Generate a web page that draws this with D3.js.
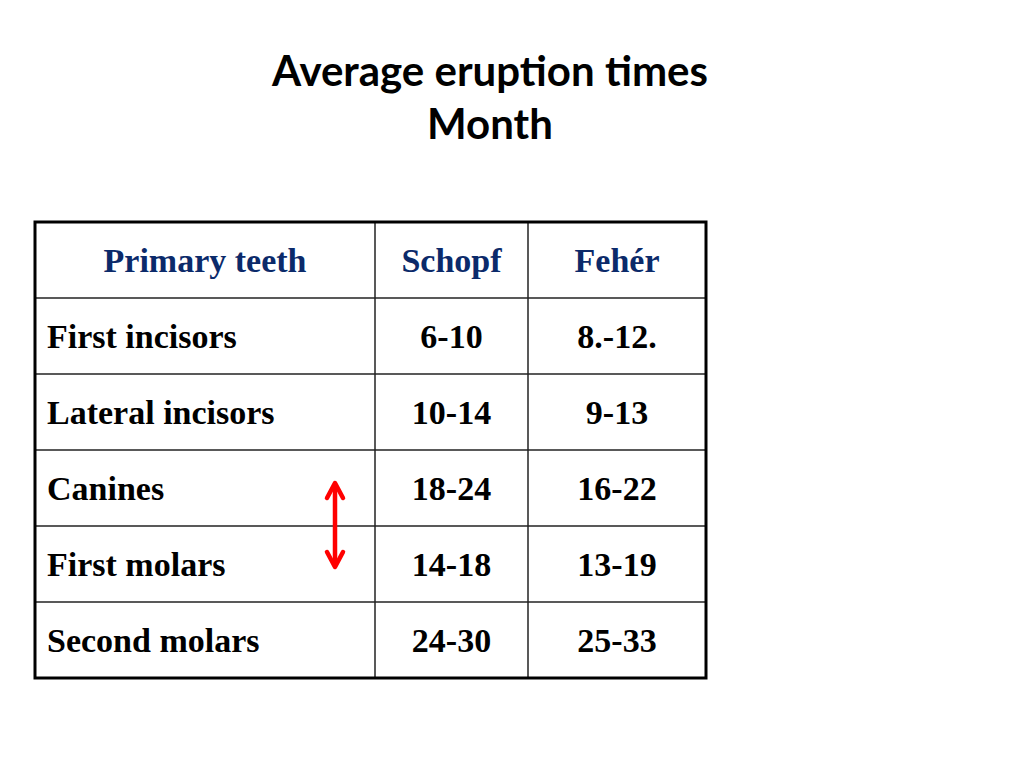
<!DOCTYPE html>
<html>
<head>
<meta charset="utf-8">
<script src="https://cdn.jsdelivr.net/npm/d3@7"></script>
<style>
  body { margin: 0; background: #fff; }
</style>
</head>
<body>
<svg id="table-svg" width="1024" height="768"></svg>
<script>
// Table content
var titleLines = ["Average eruption times", "Month"];
var headers = ["Primary teeth", "Schopf", "Fehér"];
var teeth = ["First incisors", "Lateral incisors", "Canines", "First molars", "Second molars"];
var schopf = ["6-10", "10-14", "18-24", "14-18", "24-30"];
var feher = ["8.-12.", "9-13", "16-22", "13-19", "25-33"];

var svg = d3.select("#table-svg");

// Table frame
var tLeft = 35, tTop = 222, tRight = 706, tBottom = 678;
var colEdges = [tLeft, 375, 528, tRight];

// Title
svg.selectAll(".title")
    .data(titleLines)
    .enter().append("text")
    .attr("class", "title")
    .attr("x", 490)
    .attr("y", (d, i) => 86 + i * 53)
    .attr("text-anchor", "middle")
    .style("font-family", "Lato, 'Open Sans', sans-serif")
    .style("font-weight", "bold")
    .style("font-size", "42px")
    .text(d => d);

// Rows: header + data rows
var rows = [headers].concat(teeth.map((t, i) => [t, schopf[i], feher[i]]));

var yScale = d3.scaleBand()
    .domain(d3.range(rows.length))
    .range([tTop, tBottom]);

// Horizontal lines between rows
svg.selectAll(".hline")
    .data(d3.range(1, rows.length))
    .enter().append("line")
    .attr("class", "hline")
    .attr("x1", tLeft).attr("x2", tRight)
    .attr("y1", d => yScale(d)).attr("y2", d => yScale(d))
    .attr("stroke", "#222")
    .attr("stroke-width", 1.5);

// Vertical lines between columns
svg.selectAll(".vline")
    .data(colEdges.slice(1, 3))
    .enter().append("line")
    .attr("class", "vline")
    .attr("x1", d => d).attr("x2", d => d)
    .attr("y1", tTop).attr("y2", tBottom)
    .attr("stroke", "#222")
    .attr("stroke-width", 1.5);

// Outer border
svg.append("rect")
    .attr("x", tLeft).attr("y", tTop)
    .attr("width", tRight - tLeft).attr("height", tBottom - tTop)
    .attr("fill", "none")
    .attr("stroke", "#000")
    .attr("stroke-width", 3);

// Cell text
rows.forEach(function (row, r) {
    svg.selectAll(".cell-" + r)
        .data(row)
        .enter().append("text")
        .attr("class", "cell-" + r)
        .attr("x", (d, c) => (c === 0 && r > 0) ? tLeft + 12 : (colEdges[c] + colEdges[c + 1]) / 2)
        .attr("y", yScale(r) + yScale.bandwidth() / 2)
        .attr("dy", "0.35em")
        .attr("text-anchor", (d, c) => (c === 0 && r > 0) ? "start" : "middle")
        .style("font-family", "'Liberation Serif', 'Times New Roman', serif")
        .style("font-weight", "bold")
        .style("font-size", "34px")
        .attr("fill", r === 0 ? "#0b2a6a" : "#000")
        .text(d => d);
});

// Red double arrow between Canines and First molars
var arrowX = 335;
var y1 = yScale(3) + 33, y2 = yScale(4) + 41;
svg.append("line")
    .attr("x1", arrowX).attr("x2", arrowX)
    .attr("y1", y1 + 3).attr("y2", y2 - 3)
    .attr("stroke", "#ff0000")
    .attr("stroke-width", 4.5);
[[y1, 15], [y2, -15]].forEach(function (p) {
    svg.append("path")
        .attr("d", "M" + (arrowX - 8) + "," + (p[0] + p[1]) + " L" + arrowX + "," + p[0] + " L" + (arrowX + 8) + "," + (p[0] + p[1]))
        .attr("fill", "none")
        .attr("stroke", "#ff0000")
        .attr("stroke-width", 4.5)
        .attr("stroke-linecap", "round")
        .attr("stroke-linejoin", "round");
});
</script>
</body>
</html>
